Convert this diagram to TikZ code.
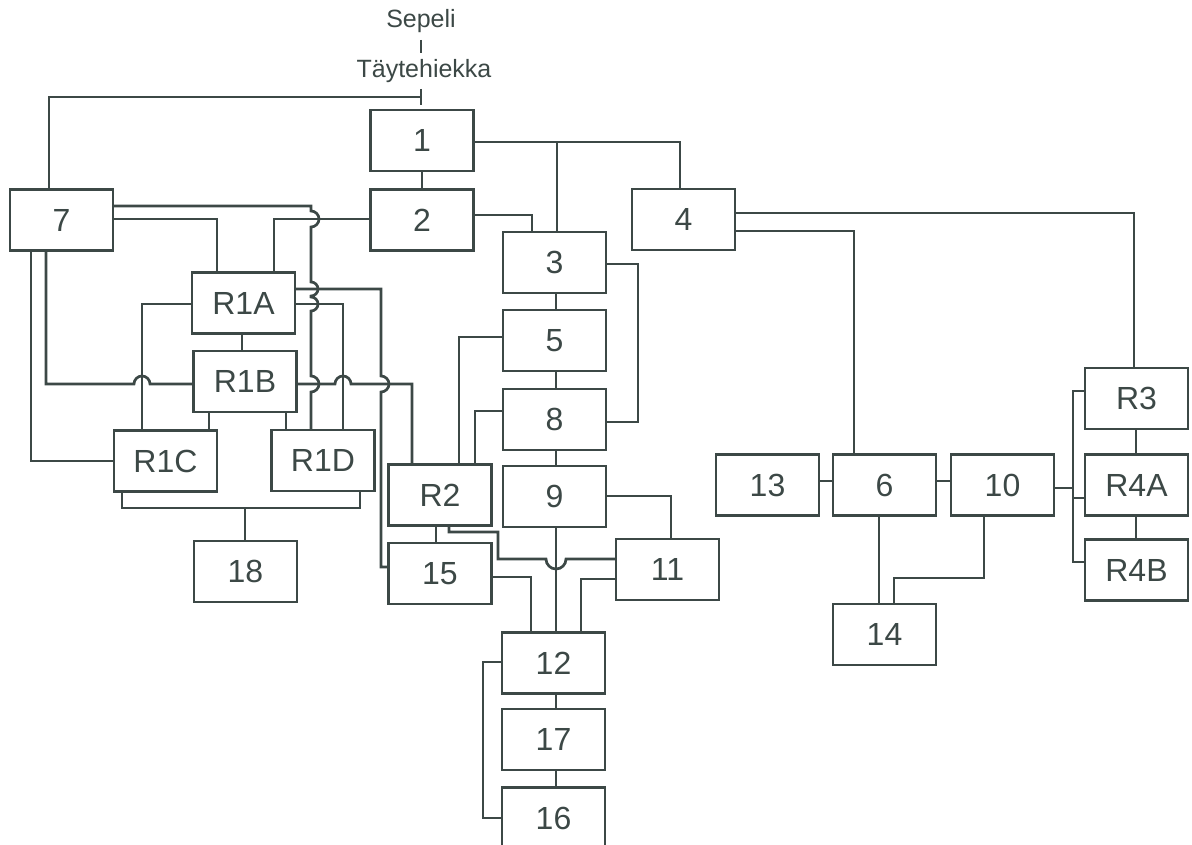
\documentclass[tikz,border=0pt]{standalone}
\usepackage{fontspec}
\setmainfont{Liberation Sans}
\definecolor{ink}{RGB}{60,72,70}
\begin{document}
\begin{tikzpicture}[x=1pt,y=-1pt,line width=2.7pt,color=ink,
  box/.style={draw,minimum width=103pt,minimum height=61pt,inner sep=0pt,outer sep=0pt,font=\fontsize{32}{36}\selectfont},
  lbl/.style={font=\fontsize{25}{30}\selectfont,inner sep=0pt,anchor=base}]
\useasboundingbox (0,0) rectangle (1192,845);
% labels
\node[lbl] (sep) at (421,28) {Sepeli};
\node[lbl] (tay) at (424,78) {Täytehiekka};
\coordinate (t1) at (421,40);
\coordinate (t2) at (421,53);
\draw (t1) -- (t2);
% boxes
\node[box] (n1) at (422,140.5) {1};
\node[box] (n2) at (422,220) {2};
\node[box] (n7) at (61.5,220) {7};
\node[box] (n3) at (554.5,262.5) {3};
\node[box] (n4) at (683.5,219.5) {4};
\node[box] (n5) at (554.5,340.5) {5};
\node[box] (n8) at (554.5,419.5) {8};
\node[box] (n9) at (554.5,496.5) {9};
\node[box] (R2) at (440,495) {R2};
\node[box] (n15) at (440,573.5) {15};
\node[box] (n11) at (667.5,569.5) {11};
\node[box] (n12) at (553.5,663) {12};
\node[box] (n17) at (553.5,739.5) {17};
\node[box] (n16) at (553.5,818) {16};
\node[box] (R1A) at (243.5,303) {R1A};
\node[box] (R1B) at (245,381.5) {R1B};
\node[box] (R1C) at (165.5,461) {R1C};
\node[box] (R1D) at (323,460.5) {R1D};
\node[box] (n18) at (245.5,571.5) {18};
\node[box] (n13) at (767.5,485) {13};
\node[box] (n6) at (884.5,485) {6};
\node[box] (n10) at (1002.5,485) {10};
\node[box] (R3) at (1136.5,398.5) {R3};
\node[box] (R4A) at (1136.5,485) {R4A};
\node[box] (R4B) at (1136.5,570) {R4B};
\node[box] (n14) at (884.5,634.5) {14};
% top feed
\coordinate (T) at (421,97);
\draw (49,0 |- n7.north) |- (T);
\draw (421,89) -- (421,105);
% 1 - 2 - 3 - 4
\draw (422,0 |- n1.south) -- (422,0 |- n2.north);
\coordinate (j1) at (557,142);
\draw (n1.east |- 0,142) -| (680,0 |- n4.north);
\draw (j1) -- (557,0 |- n3.north);
\draw (n2.east |- 0,215) -| (532,0 |- n3.north);
% 2 and 7 to R1A
\draw (n2.west |- 0,219) -| (274,0 |- R1A.north);
\draw (n7.east |- 0,219) -| (217,0 |- R1A.north);
% 7 to R1D with hops
\draw (n7.east |- 0,206) -- (311,206) -- (311,211)
  arc[start angle=90,end angle=-90,radius=8pt] -- (311,282)
  arc[start angle=90,end angle=-90,radius=7pt] -- (311,297)
  arc[start angle=90,end angle=-90,radius=7pt] -- (311,376)
  arc[start angle=90,end angle=-90,radius=8pt] -- (311,0 |- R1D.north);
% R1A to 15
\draw (R1A.east |- 0,289) -- (381,289) -- (381,376)
  arc[start angle=90,end angle=-90,radius=8pt] -- (381,567) -- (n15.west |- 0,567);
% R1A to R1D, R1C, R1B
\draw (R1A.east |- 0,304) -| (343,0 |- R1D.north);
\draw (R1A.west |- 0,304) -| (142,0 |- R1C.north);
\draw (242,0 |- R1A.south) -- (242,0 |- R1B.north);
% 7 to R1B, R1C
\draw (46,0 |- n7.south) -- (46,384) -- (134,384)
  arc[start angle=180,end angle=0,radius=8pt] -- (R1B.west |- 0,384);
\draw (31,0 |- n7.south) |- (R1C.west);
% R1B to R2
\draw (R1B.east |- 0,384) -- (335,384)
  arc[start angle=180,end angle=0,radius=8pt] -- (412,384) -- (412,0 |- R2.north);
\draw (209,0 |- R1B.south) -- (209,0 |- R1C.north);
\draw (286,0 |- R1B.south) -- (286,0 |- R1D.north);
% R1C, R1D to 18
\coordinate (j18) at (245,508);
\draw (122,0 |- R1C.south) -- (122,508) -- (360,508) -- (360,0 |- R1D.south);
\draw (j18) -- (245,0 |- n18.north);
% middle column
\draw (n3.east |- 0,264) -| (638,422) -- (n8.east |- 0,422);
\draw (556,0 |- n3.south) -- (556,0 |- n5.north);
\draw (556,0 |- n5.south) -- (556,0 |- n8.north);
\draw (556,0 |- n8.south) -- (556,0 |- n9.north);
\draw (n5.west |- 0,337) -| (459,0 |- R2.north);
\draw (n8.west |- 0,411) -| (475,0 |- R2.north);
\draw (n9.east |- 0,496) -| (671,0 |- n11.north);
\draw (436,0 |- R2.south) -- (436,0 |- n15.north);
\draw (449,0 |- R2.south) |- (498,532) |- (546,559)
  arc[start angle=180,end angle=360,radius=10pt] -- (n11.west |- 0,559);
\draw (556,0 |- n9.south) -- (556,0 |- n12.north);
\draw (n15.east |- 0,577) -| (531,0 |- n12.north);
\draw (n11.west |- 0,579) -| (581,0 |- n12.north);
\draw (n12.west |- 0,662) -- (483,662) |- (n16.west |- 0,818);
\draw (556,0 |- n12.south) -- (556,0 |- n17.north);
\draw (556,0 |- n17.south) -- (556,0 |- n16.north);
% right part
\draw (n4.east |- 0,213) -| (1134,0 |- R3.north);
\draw (n4.east |- 0,231) -| (854,0 |- n6.north);
\draw (n13.east |- 0,481) -- (n6.west |- 0,481);
\draw (n6.east |- 0,481) -- (n10.west |- 0,481);
\draw (879,0 |- n6.south) -- (879,0 |- n14.north);
\draw (984,0 |- n10.south) |- (894,578) -- (894,0 |- n14.north);
\coordinate (jb) at (1073,488);
\draw (n10.east |- 0,488) -- (jb);
\draw (R3.west |- 0,391) -| (1073,562) -- (R4B.west |- 0,562);
\draw (1073,498) -- (R4A.west |- 0,498);
\draw (1136,0 |- R3.south) -- (1136,0 |- R4A.north);
\draw (1136,0 |- R4A.south) -- (1136,0 |- R4B.north);
\end{tikzpicture}
\end{document}
